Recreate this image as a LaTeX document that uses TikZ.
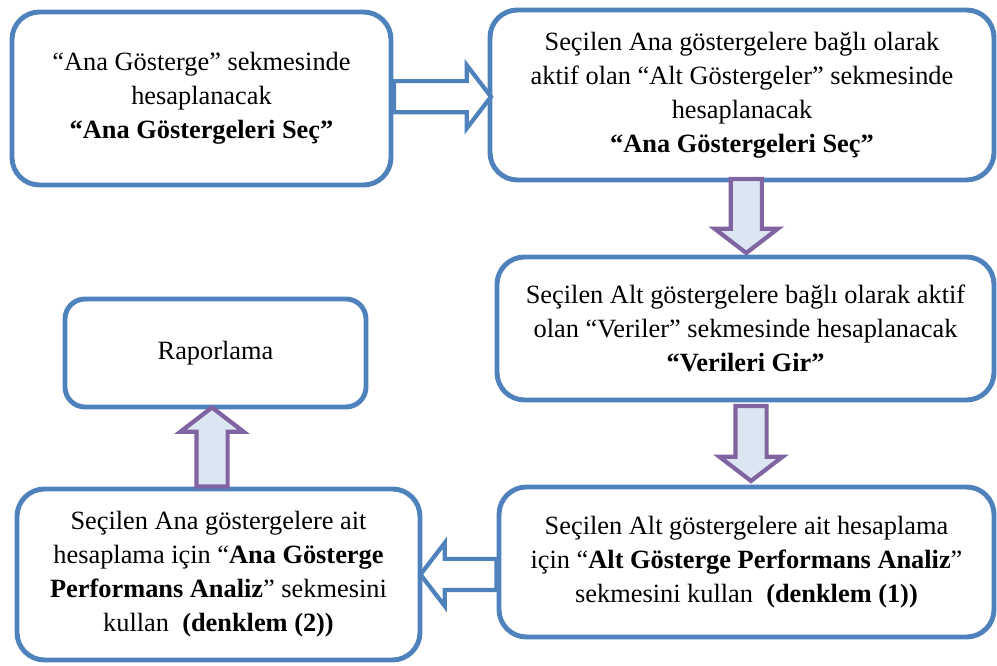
\documentclass[tikz,border=0pt]{standalone}
\usepackage{fontspec}
\setmainfont{Liberation Serif}
\usetikzlibrary{shapes.arrows}
\definecolor{boxblue}{HTML}{4F81BD}
\definecolor{arrowpurple}{HTML}{8064A2}
\definecolor{arrowfill}{HTML}{DCE6F2}
\begin{document}
\begin{tikzpicture}[
        stepbox/.style={draw=boxblue, line width=2.8pt, rounded corners=0.55cm, align=center,
                        inner sep=0pt, font=\fontsize{15}{19.3}\selectfont},
        fatarrow/.style={single arrow, line width=2.4pt, inner xsep=0pt, inner ysep=0.27cm,
                         single arrow head extend=0.32cm, single arrow tip angle=105},
        harrow/.style={fatarrow, draw=boxblue, fill=white},
        varrow/.style={fatarrow, draw=arrowpurple, fill=arrowfill}
    ]
                    \useasboundingbox (0,0) rectangle (19.94,-13.32);

                    \node [stepbox, minimum width=7.58cm, minimum height=3.46cm] (anaSec) at (4.03,-1.97)
                        {“Ana Gösterge” sekmesinde\\ hesaplanacak\\ \textbf{“Ana Göstergeleri Seç”}};
                    \node [stepbox, minimum width=10.08cm, minimum height=3.4cm] (altSec) at (14.84,-1.9)
                        {Seçilen Ana göstergelere bağlı olarak\\ aktif olan “Alt Göstergeler” sekmesinde\\ hesaplanacak\\ \textbf{“Ana Göstergeleri Seç”}};
                    \node [stepbox, minimum width=9.94cm, minimum height=2.86cm] (veriGir) at (14.91,-6.57)
                        {Seçilen Alt göstergelere bağlı olarak aktif\\ olan “Veriler” sekmesinde hesaplanacak\\ \textbf{“Verileri Gir”}};
                    \node [stepbox, rounded corners=0.4cm, minimum width=6.02cm, minimum height=2.16cm] (rapor) at (4.31,-7.06)
                        {Raporlama};
                    \node [stepbox, minimum width=8.06cm, minimum height=3.42cm] (anaAnaliz) at (4.37,-11.49)
                        {Seçilen Ana göstergelere ait\\ hesaplama için “\textbf{Ana Gösterge}\\ \textbf{Performans Analiz}” sekmesini\\ kullan\ \ \textbf{(denklem (2))}};
                    \node [stepbox, minimum width=9.9cm, minimum height=3.0cm] (altAnaliz) at (14.93,-11.24)
                        {Seçilen Alt göstergelere ait hesaplama\\ için “\textbf{Alt Gösterge Performans Analiz}”\\ sekmesini kullan\ \ \textbf{(denklem (1))}};

                    \path (anaSec.east) -- (altSec.west) node [midway, harrow, xshift=-0.08cm, minimum height=1.94cm] (ok1) {};
                    \path (altSec.south) -- (veriGir.north) node [midway, varrow, rotate=-90, xshift=-0.17cm, yshift=0.05cm, minimum height=1.48cm] (ok2) {};
                    \path (veriGir.south) -- (altAnaliz.north) node [midway, varrow, rotate=-90, xshift=-0.12cm, yshift=0.1cm, minimum height=1.5cm] (ok3) {};
                    \path (altAnaliz.west |- anaAnaliz.east) -- (anaAnaliz.east) node [midway, harrow, rotate=180, xshift=-0.1cm, minimum height=1.52cm] (ok4) {};
                    \path (anaAnaliz.north) -- (rapor.south) node [midway, varrow, rotate=90, xshift=-0.1cm, yshift=0.1cm, minimum height=1.58cm] (ok5) {};

                \end{tikzpicture}
\end{document}
